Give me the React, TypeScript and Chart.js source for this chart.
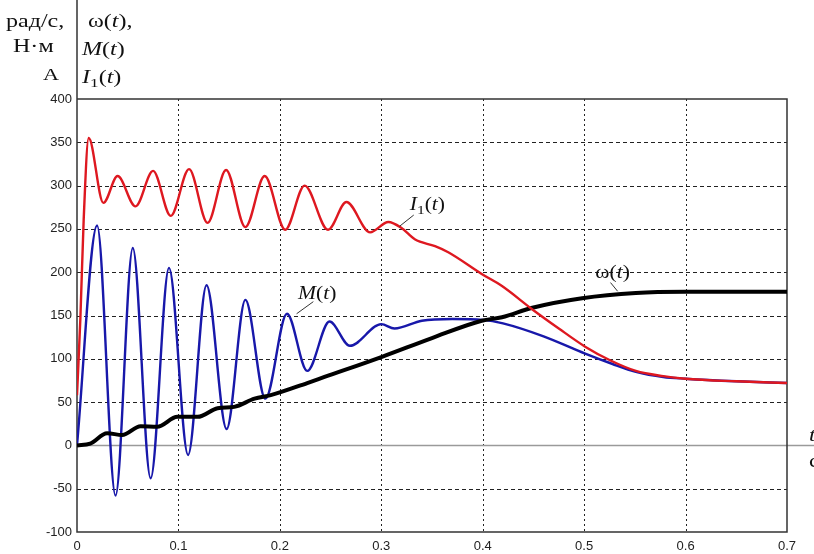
import { useEffect, useRef } from 'react';
import { Chart, registerables } from 'chart.js';

Chart.register(...registerables);

// Electromagnetic torque M(t), Н·м
const timeM = [0, 0.0198, 0.038, 0.055, 0.0726, 0.0907, 0.1095, 0.1277, 0.1475, 0.166, 0.1857, 0.207, 0.227, 0.249, 0.269, 0.3, 0.313, 0.34, 0.37, 0.4, 0.42, 0.46, 0.501, 0.528, 0.551, 0.578, 0.6, 0.65, 0.7];
const torque = [0, 254, -58, 228, -38, 205, -11, 185, 19, 168, 54, 152, 86, 143, 115, 140, 135, 144, 146, 145, 141, 126, 106, 94, 85, 79, 77, 74, 72];

// Stator current I1(t), А
const timeI = [0, 0.0033, 0.0066, 0.0115, 0.026, 0.04, 0.0577, 0.075, 0.0924, 0.1105, 0.1287, 0.147, 0.166, 0.185, 0.2053, 0.2244, 0.2475, 0.2656, 0.289, 0.307, 0.32, 0.333, 0.353, 0.366, 0.399, 0.419, 0.449, 0.475, 0.501, 0.526, 0.551, 0.578, 0.6, 0.65, 0.7];
const current = [58, 146, 261, 355, 280, 311, 276, 317, 265, 319, 257, 318, 252, 311, 249, 300, 249, 281, 246, 258, 251, 238, 230, 223, 198, 184, 157, 135, 114, 98, 86, 80, 77, 74, 72];

// Rotor speed ω(t), рад/с
const timeW = [0, 0.013, 0.0297, 0.0445, 0.0627, 0.079, 0.099, 0.119, 0.1386, 0.155, 0.175, 0.191, 0.227, 0.244, 0.3, 0.35, 0.399, 0.419, 0.449, 0.498, 0.551, 0.6, 0.7];
const speed = [0, 2, 14, 12, 22, 21.5, 33, 33, 43, 44.5, 54, 58, 72, 79, 102, 124, 144, 148, 159, 170, 176, 177.4, 177.5];

const xTickLabels = ['0', '0.1', '0.2', '0.3', '0.4', '0.5', '0.6', '0.7'];

const SERIF = '"Liberation Serif", "Times New Roman", serif';

type Seg = { s: string; it?: boolean; sub?: boolean };

const pairs = (ts: number[], vs: number[]) => ts.map((t, i) => ({ x: t, y: vs[i] }));

function drawRich(ctx: CanvasRenderingContext2D, x: number, y: number, segs: Seg[], size: number, sx: number) {
  ctx.save();
  ctx.translate(x, y);
  ctx.scale(sx, 1);
  ctx.textAlign = 'left';
  ctx.textBaseline = 'alphabetic';
  let cx = 0;
  for (const g of segs) {
    const fs = g.sub ? size * 0.72 : size;
    ctx.font = `${g.it ? 'italic ' : ''}${fs}px ${SERIF}`;
    ctx.fillText(g.s, cx, g.sub ? size * 0.22 : 0);
    cx += ctx.measureText(g.s).width;
  }
  ctx.restore();
}

// Curve labels with their leader lines, in data coordinates
const curveLabels: { segs: Seg[]; at: [number, number]; from: [number, number]; to: [number, number] }[] = [
  { segs: [{ s: 'M', it: true }, { s: '(' }, { s: 't', it: true }, { s: ')' }], at: [0.218, 169], from: [0.233, 166], to: [0.2165, 152] },
  { segs: [{ s: 'I', it: true }, { s: '1', sub: true }, { s: '(' }, { s: 't', it: true }, { s: ')' }], at: [0.328, 272], from: [0.332, 266], to: [0.318, 253] },
  { segs: [{ s: 'ω(' }, { s: 't', it: true }, { s: ')' }], at: [0.511, 193], from: [0.526, 188], to: [0.533, 178] },
];

const decor = {
  id: 'decor',
  beforeDatasetsDraw(chart: any) {
    const { ctx, chartArea: a, scales } = chart;
    const xs = scales.x;
    const ys = scales.y;
    ctx.save();
    // dashed horizontal grid
    ctx.strokeStyle = '#222';
    ctx.lineWidth = 1;
    ctx.setLineDash([4, 3]);
    ys.ticks.forEach((tk: any) => {
      if (tk.value === 0 || tk.value === ys.min || tk.value === ys.max) return;
      const y = Math.round(ys.getPixelForValue(tk.value)) + 0.5;
      ctx.beginPath();
      ctx.moveTo(a.left, y);
      ctx.lineTo(a.right, y);
      ctx.stroke();
    });
    // dotted vertical grid
    ctx.setLineDash([2, 3]);
    xs.ticks.forEach((tk: any, i: number) => {
      if (i === 0 || i === xs.ticks.length - 1) return;
      const x = Math.round(xs.getPixelForValue(tk.value)) + 0.5;
      ctx.beginPath();
      ctx.moveTo(x, a.top);
      ctx.lineTo(x, a.bottom);
      ctx.stroke();
    });
    ctx.setLineDash([]);
    // zero line, running out to the unit label
    const y0 = Math.round(ys.getPixelForValue(0)) + 0.5;
    ctx.strokeStyle = '#9a9a9a';
    ctx.lineWidth = 1.5;
    ctx.beginPath();
    ctx.moveTo(a.left, y0);
    ctx.lineTo(chart.width, y0);
    ctx.stroke();
    // frame
    ctx.strokeStyle = '#333';
    ctx.lineWidth = 1.5;
    ctx.beginPath();
    ctx.moveTo(a.left, 0);
    ctx.lineTo(a.left, a.bottom);
    ctx.lineTo(a.right, a.bottom);
    ctx.lineTo(a.right, a.top);
    ctx.lineTo(a.left, a.top);
    ctx.stroke();
    ctx.restore();
  },
  afterDatasetsDraw(chart: any) {
    const { ctx, scales } = chart;
    const xs = scales.x;
    const ys = scales.y;
    ctx.save();
    ctx.fillStyle = '#111';
    const sx = 1.3;
    // units column
    drawRich(ctx, 6, 27, [{ s: 'рад/с,' }], 18.5, sx);
    drawRich(ctx, 13, 52, [{ s: 'Н·м' }], 18.5, sx);
    drawRich(ctx, 43, 80, [{ s: 'А' }], 17, sx);
    // quantities column
    drawRich(ctx, 88, 27, [{ s: 'ω(' }, { s: 't', it: true }, { s: '),' }], 18.5, sx);
    drawRich(ctx, 82, 55, [{ s: 'M', it: true }, { s: '(' }, { s: 't', it: true }, { s: ')' }], 18.5, sx);
    drawRich(ctx, 82, 83, [{ s: 'I', it: true }, { s: '1', sub: true }, { s: '(' }, { s: 't', it: true }, { s: ')' }], 18.5, sx);
    // time axis unit
    drawRich(ctx, 809, 441, [{ s: 't', it: true }, { s: ',' }], 18, sx);
    drawRich(ctx, 809, 467, [{ s: 'с' }], 18, sx);
    // curve labels
    ctx.strokeStyle = '#333';
    ctx.lineWidth = 1;
    for (const c of curveLabels) {
      ctx.beginPath();
      ctx.moveTo(xs.getPixelForValue(c.from[0]), ys.getPixelForValue(c.from[1]));
      ctx.lineTo(xs.getPixelForValue(c.to[0]), ys.getPixelForValue(c.to[1]));
      ctx.stroke();
      drawRich(ctx, xs.getPixelForValue(c.at[0]), ys.getPixelForValue(c.at[1]), c.segs, 18, 1.2);
    }
    ctx.restore();
  },
};

export default function App() {
  const ref = useRef<HTMLCanvasElement | null>(null);

  useEffect(() => {
    if (!ref.current) return;
    const chart = new Chart(ref.current, {
      type: 'line',
      data: {
        datasets: [
          {
            label: 'I1(t)',
            data: pairs(timeI, current),
            borderColor: 'rgb(222,24,32)',
            borderWidth: 2.4,
            pointRadius: 0,
            cubicInterpolationMode: 'monotone',
            order: 0,
          },
          {
            label: 'ω(t)',
            data: pairs(timeW, speed),
            borderColor: '#000',
            borderWidth: 4,
            pointRadius: 0,
            cubicInterpolationMode: 'monotone',
            order: 1,
          },
          {
            label: 'M(t)',
            data: pairs(timeM, torque),
            borderColor: 'rgb(24,24,170)',
            borderWidth: 2.4,
            pointRadius: 0,
            cubicInterpolationMode: 'monotone',
            order: 2,
          },
        ],
      },
      options: {
        responsive: false,
        animation: false,
        parsing: false,
        layout: { padding: { top: 99, right: 27, left: 0, bottom: 0 } },
        plugins: { legend: { display: false }, tooltip: { enabled: false } },
        scales: {
          x: {
            type: 'linear',
            min: 0,
            max: 0.7,
            grid: { display: false, drawTicks: false },
            border: { display: false },
            ticks: {
              stepSize: 0.1,
              padding: 7,
              color: '#222',
              font: { family: '"Liberation Sans", Arial, sans-serif', size: 13 },
              maxRotation: 0,
              callback: (_v: any, i: number) => xTickLabels[i],
            },
            afterFit: (s: any) => { s.height = 22; },
          },
          y: {
            type: 'linear',
            min: -100,
            max: 400,
            grid: { display: false, drawTicks: false },
            border: { display: false },
            ticks: {
              stepSize: 50,
              padding: 5,
              color: '#222',
              font: { family: '"Liberation Sans", Arial, sans-serif', size: 13 },
            },
            afterFit: (s: any) => { s.width = 77; },
          },
        },
      },
      plugins: [decor],
    } as any);
    return () => chart.destroy();
  }, []);

  return (
    <div style={{ position: 'fixed', left: 0, top: 0, width: 814, height: 554, background: '#fff' }}>
      <canvas ref={ref} width={814} height={554} style={{ width: 814, height: 554, display: 'block' }} />
    </div>
  );
}
